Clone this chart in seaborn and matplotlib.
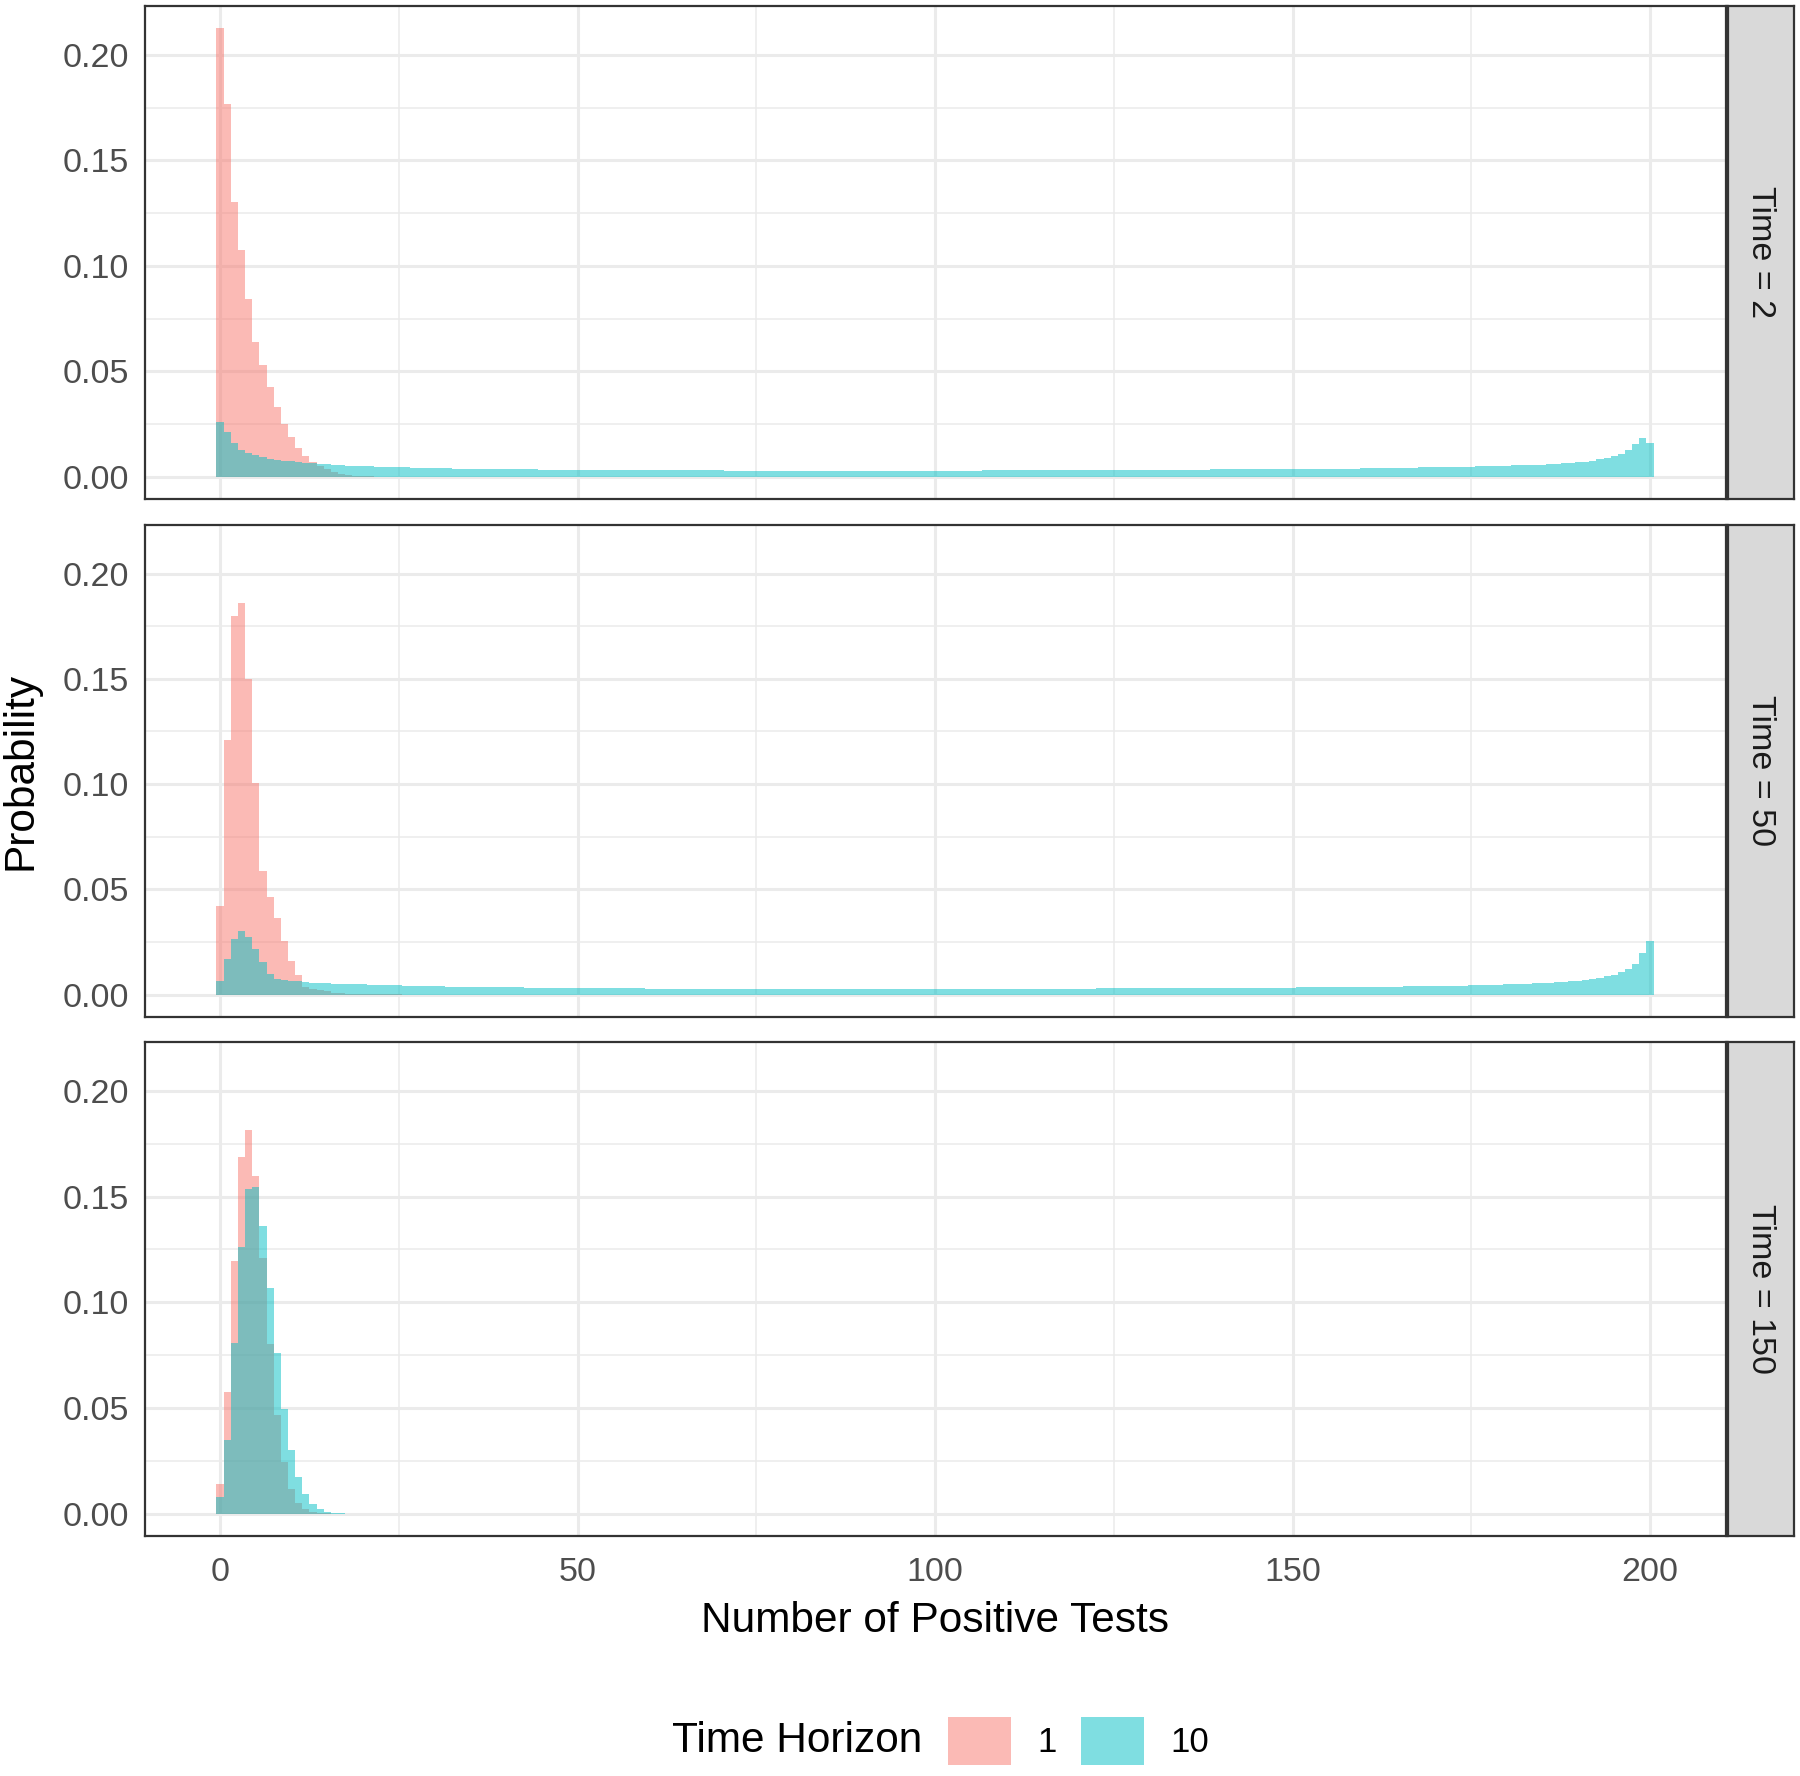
import numpy as np
import pandas as pd
import matplotlib
matplotlib.use("Agg")
import matplotlib.pyplot as plt
from matplotlib.ticker import MultipleLocator, FormatStrFormatter
from matplotlib.patches import Patch
import seaborn as sns

# ---------------- data ----------------
times = [2, 50, 150]
horizons = ["1", "10"]
colors = {"1": "#F8766D", "10": "#00BFC4"}

# Time = 2, horizon 1
h1_t2 = [0.2126, 0.1767, 0.1302, 0.1073, 0.0845, 0.0641, 0.0528, 0.0424, 0.0330, 0.0251,
         0.0187, 0.0138, 0.0101, 0.0072, 0.0052, 0.0036, 0.0024, 0.0016, 0.0010, 0.0006,
         0.0004, 0.0003, 0.0002, 0.0001, 0.0001, 0.0001]
# Time = 2, horizon 10
h10_t2 = [0.0258, 0.0214, 0.0159, 0.0129, 0.0113, 0.0102, 0.0093, 0.0086, 0.0080, 0.0077,
          0.0074, 0.0071, 0.0068, 0.0066, 0.0063, 0.0060, 0.0058, 0.0056, 0.0054, 0.0052,
          0.0051, 0.0050, 0.0049, 0.0048, 0.0047, 0.0046, 0.0045, 0.0044, 0.0043, 0.0043,
          0.0042, 0.0041, 0.0041, 0.0040, 0.0040, 0.0039, 0.0039, 0.0038, 0.0038, 0.0037,
          0.0037, 0.0037, 0.0036, 0.0036, 0.0036, 0.0035, 0.0035, 0.0035, 0.0034, 0.0034,
          0.0034, 0.0034, 0.0033, 0.0033, 0.0033, 0.0033, 0.0033, 0.0032, 0.0032, 0.0032,
          0.0032, 0.0032, 0.0032, 0.0031, 0.0031, 0.0031, 0.0031, 0.0031, 0.0031, 0.0031,
          0.0031, 0.0030, 0.0030, 0.0030, 0.0030, 0.0030, 0.0030, 0.0030, 0.0030, 0.0030,
          0.0030, 0.0030, 0.0029, 0.0029, 0.0029, 0.0029, 0.0029, 0.0029, 0.0029, 0.0029,
          0.0029, 0.0029, 0.0029, 0.0029, 0.0029, 0.0029, 0.0029, 0.0029, 0.0029, 0.0029,
          0.0030, 0.0030, 0.0030, 0.0030, 0.0030, 0.0030, 0.0030, 0.0031, 0.0031, 0.0031,
          0.0031, 0.0031, 0.0031, 0.0031, 0.0031, 0.0032, 0.0032, 0.0032, 0.0032, 0.0032,
          0.0032, 0.0032, 0.0033, 0.0033, 0.0033, 0.0033, 0.0033, 0.0033, 0.0034, 0.0034,
          0.0034, 0.0034, 0.0034, 0.0034, 0.0035, 0.0035, 0.0035, 0.0035, 0.0035, 0.0036,
          0.0036, 0.0036, 0.0036, 0.0036, 0.0036, 0.0037, 0.0037, 0.0037, 0.0037, 0.0037,
          0.0037, 0.0038, 0.0038, 0.0038, 0.0039, 0.0039, 0.0039, 0.0040, 0.0040, 0.0040,
          0.0041, 0.0041, 0.0042, 0.0042, 0.0043, 0.0043, 0.0044, 0.0044, 0.0045, 0.0046,
          0.0046, 0.0047, 0.0047, 0.0048, 0.0048, 0.0049, 0.0050, 0.0051, 0.0052, 0.0053,
          0.0054, 0.0055, 0.0056, 0.0057, 0.0058, 0.0059, 0.0060, 0.0062, 0.0064, 0.0066,
          0.0069, 0.0072, 0.0075, 0.0083, 0.0091, 0.0099, 0.0110, 0.0126, 0.0154, 0.0184,
          0.0162]

# Time = 50, horizon 1
h1_t50 = [0.0420, 0.1208, 0.1797, 0.1860, 0.1500, 0.1006, 0.0585, 0.0464, 0.0366, 0.0256,
          0.0162, 0.0094, 0.0038, 0.0028, 0.0021, 0.0015, 0.0010, 0.0007, 0.0005, 0.0004,
          0.0003, 0.0002, 0.0002, 0.0001, 0.0001, 0.0001]
# Time = 50, horizon 10
h10_t50 = [0.0063, 0.0170, 0.0264, 0.0302, 0.0275, 0.0215, 0.0153, 0.0099, 0.0074, 0.0070,
           0.0067, 0.0064, 0.0060, 0.0057, 0.0055, 0.0053, 0.0052, 0.0051, 0.0050, 0.0049,
           0.0049, 0.0048, 0.0047, 0.0046, 0.0045, 0.0044, 0.0043, 0.0042, 0.0041, 0.0040,
           0.0040, 0.0039, 0.0038, 0.0038, 0.0037, 0.0037, 0.0036, 0.0036, 0.0035, 0.0035,
           0.0034, 0.0034, 0.0034, 0.0033, 0.0033, 0.0033, 0.0032, 0.0032, 0.0032, 0.0032,
           0.0032, 0.0031, 0.0031, 0.0031, 0.0031, 0.0030, 0.0030, 0.0030, 0.0030, 0.0030,
           0.0029, 0.0029, 0.0029, 0.0029, 0.0029, 0.0029, 0.0028, 0.0028, 0.0028, 0.0028,
           0.0028, 0.0028, 0.0028, 0.0028, 0.0028, 0.0028, 0.0027, 0.0027, 0.0027, 0.0027,
           0.0027, 0.0027, 0.0027, 0.0027, 0.0027, 0.0027, 0.0026, 0.0026, 0.0026, 0.0026,
           0.0026, 0.0026, 0.0026, 0.0026, 0.0026, 0.0026, 0.0026, 0.0026, 0.0026, 0.0026,
           0.0026, 0.0027, 0.0027, 0.0027, 0.0027, 0.0027, 0.0027, 0.0027, 0.0027, 0.0028,
           0.0028, 0.0028, 0.0028, 0.0028, 0.0028, 0.0028, 0.0029, 0.0029, 0.0029, 0.0029,
           0.0029, 0.0029, 0.0029, 0.0030, 0.0030, 0.0030, 0.0030, 0.0030, 0.0030, 0.0031,
           0.0031, 0.0031, 0.0031, 0.0031, 0.0031, 0.0031, 0.0032, 0.0032, 0.0032, 0.0032,
           0.0032, 0.0032, 0.0032, 0.0032, 0.0033, 0.0033, 0.0033, 0.0033, 0.0033, 0.0033,
           0.0033, 0.0034, 0.0034, 0.0034, 0.0034, 0.0035, 0.0035, 0.0035, 0.0035, 0.0036,
           0.0036, 0.0036, 0.0037, 0.0037, 0.0038, 0.0038, 0.0039, 0.0039, 0.0040, 0.0040,
           0.0041, 0.0041, 0.0042, 0.0043, 0.0043, 0.0044, 0.0045, 0.0046, 0.0047, 0.0048,
           0.0049, 0.0050, 0.0051, 0.0052, 0.0053, 0.0055, 0.0057, 0.0058, 0.0061, 0.0063,
           0.0066, 0.0071, 0.0075, 0.0080, 0.0087, 0.0094, 0.0106, 0.0121, 0.0146, 0.0200,
           0.0255]

# Time = 150, horizon 1
h1_t150 = [0.0138, 0.0574, 0.1196, 0.1689, 0.1818, 0.1599, 0.1212, 0.0803, 0.0467, 0.0244,
           0.0118, 0.0052, 0.0020, 0.0008, 0.0003, 0.0001]
# Time = 150, horizon 10
h10_t150 = [0.0076, 0.0349, 0.0806, 0.1262, 0.1538, 0.1544, 0.1360, 0.1070, 0.0759, 0.0493,
            0.0301, 0.0173, 0.0091, 0.0046, 0.0022, 0.0009, 0.0003, 0.0001]

series = {
    2: {"1": h1_t2, "10": h10_t2},
    50: {"1": h1_t50, "10": h10_t50},
    150: {"1": h1_t150, "10": h10_t150},
}

rows = []
for t in times:
    for h in horizons:
        vals = series[t][h]
        for k, v in enumerate(vals):
            rows.append({"time": t, "horizon": h, "count": k, "prob": v})
df = pd.DataFrame(rows)

# ---------------- styling ----------------
sns.set_style("white")
plt.rcParams["font.family"] = ["Liberation Sans", "DejaVu Sans"]

W, H = 1800, 1776
fig = plt.figure(figsize=(W / 100, H / 100), dpi=100)

grey20 = "#333333"
grey30 = "#4D4D4D"
gridc = "#EBEBEB"
base_fs = 30.5
small_fs = 24.5

left_px, right_px = 144.6, 1725.5
strip_l, strip_r = 1727.7, 1794.3
panels_px = [(5.7, 499.4), (524.6, 1017.0), (1042.0, 1536.0)]

def fx(px):
    return px / W

def fy(px):
    return 1 - px / H

xlim = (-10.55, 210.55)
ymax = max(max(v) for d in series.values() for v in d.values())
ylim = (-0.05 * ymax, 1.05 * ymax)

for i, t in enumerate(times):
    top, bot = panels_px[i]
    ax = fig.add_axes([fx(left_px), fy(bot), fx(right_px - left_px), (bot - top) / H])
    sub = df[df["time"] == t]
    for h in horizons:
        d = sub[sub["horizon"] == h]
        sns.histplot(data=d, x="count", weights="prob", discrete=True, stat="count",
                     color=colors[h], alpha=0.5, linewidth=0, ax=ax)
    ax.set_xlim(*xlim)
    ax.set_ylim(*ylim)
    ax.set_axisbelow(True)
    ax.set_xlabel("")
    ax.set_ylabel("")
    ax.xaxis.set_major_locator(MultipleLocator(50))
    ax.xaxis.set_minor_locator(MultipleLocator(25))
    ax.yaxis.set_major_locator(MultipleLocator(0.05))
    ax.yaxis.set_minor_locator(MultipleLocator(0.025))
    ax.yaxis.set_major_formatter(FormatStrFormatter("%.2f"))
    ax.grid(True, which="major", color=gridc, linewidth=2.2)
    ax.grid(True, which="minor", color=gridc, linewidth=1.1)
    ax.tick_params(which="minor", length=0)
    ax.tick_params(axis="y", which="major", length=7, width=1.4, color=grey20,
                   labelsize=small_fs, labelcolor=grey30, pad=4)
    if i < 2:
        ax.tick_params(axis="x", which="major", length=0, labelbottom=False)
    else:
        ax.tick_params(axis="x", which="major", length=7, width=1.4, color=grey20,
                       labelsize=small_fs, labelcolor=grey30, pad=8)
    for s in ax.spines.values():
        s.set_color(grey20)
        s.set_linewidth(1.6)

    # facet strip
    sax = fig.add_axes([fx(strip_l), fy(bot), fx(strip_r - strip_l), (bot - top) / H])
    sax.set_facecolor("#D9D9D9")
    sax.set_xticks([])
    sax.set_yticks([])
    for s in sax.spines.values():
        s.set_color(grey20)
        s.set_linewidth(1.6)
    sax.text(0.5, 0.5, f"Time = {t}", rotation=270, ha="center", va="center",
             fontsize=small_fs, color="#1A1A1A", transform=sax.transAxes)

# axis titles
fig.text(fx((left_px + right_px) / 2), fy(1621), "Number of Positive Tests",
         ha="center", va="center", fontsize=base_fs, color="black")
fig.text(fx(21), fy(771), "Probability", rotation=90, ha="center", va="center",
         fontsize=base_fs, color="black")

# legend at bottom
fig.text(fx(922), fy(1741), "Time Horizon", ha="right", va="center",
         fontsize=base_fs, color="black")
handles = [Patch(facecolor=colors[h], alpha=0.5, edgecolor="none") for h in horizons]
leg = fig.legend(handles, horizons, loc="center left", bbox_to_anchor=(fx(948), fy(1741)),
                 ncol=2, frameon=False, fontsize=small_fs + 0.5, handlelength=1.82,
                 handleheight=1.75, handletextpad=0.75, columnspacing=0.7,
                 borderpad=0, borderaxespad=0)
for txt in leg.get_texts():
    txt.set_color("black")

fig.savefig("out.png", dpi=100, facecolor="white")
